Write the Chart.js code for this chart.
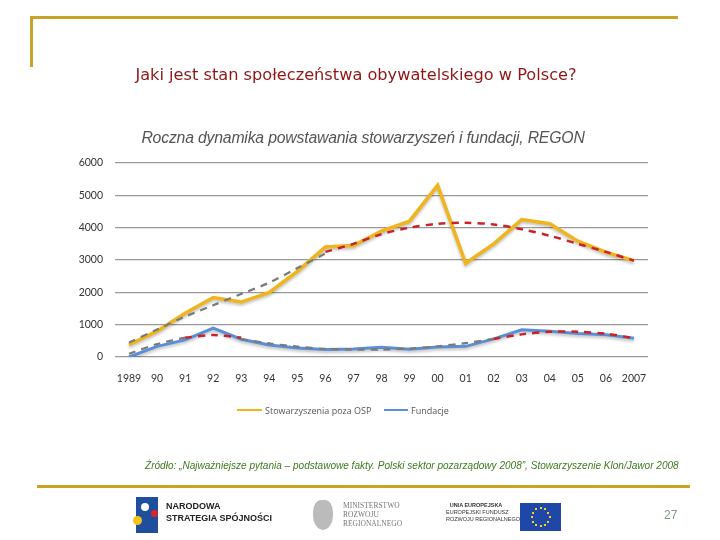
<!DOCTYPE html>
<html><head><meta charset="utf-8">
<script src="https://cdn.jsdelivr.net/npm/chart.js@4.4.1/dist/chart.umd.min.js"></script>
<style>
html,body{margin:0;padding:0;background:#fff;width:720px;height:540px;overflow:hidden;position:relative;font-family:"Liberation Sans",Arial,sans-serif}
.abs{position:absolute;white-space:nowrap}
#c{position:absolute;left:0;top:0}
</style></head><body>
<canvas id="c" width="720" height="540"></canvas>
<div class="abs" style="left:30px;top:16px;width:648px;height:3px;background:#C9A22A"></div>
<div class="abs" style="left:30px;top:16px;width:3px;height:51px;background:#C9A22A"></div>
<div class="abs" style="left:0;width:712px;top:65px;text-align:center;font-family:'DejaVu Sans';font-size:16.2px;color:#8E1616;letter-spacing:0px">Jaki jest stan społeczeństwa obywatelskiego w Polsce?</div>
<div class="abs" style="left:0;width:726px;top:129px;text-align:center;font-style:italic;font-size:15.8px;color:#555;letter-spacing:-0.2px">Roczna dynamika powstawania stowarzyszeń i fundacji, REGON</div>
<div class="abs" style="left:237px;top:409px;width:25px;height:2px;background:#F0B41C"></div>
<div class="abs" style="left:265px;top:404px;font-family:'Open Sans';font-size:9px;color:#555">Stowarzyszenia poza OSP</div>
<div class="abs" style="left:384px;top:409px;width:24px;height:2px;background:#5B8ED4"></div>
<div class="abs" style="left:411px;top:404px;font-family:'Open Sans';font-size:9px;color:#555">Fundacje</div>
<div class="abs" style="left:145px;top:460px;font-style:italic;font-size:10.05px;color:#3E7A1E;letter-spacing:0px">Źródło: „Najważniejsze pytania – podstawowe fakty. Polski sektor pozarządowy 2008”, Stowarzyszenie Klon/Jawor 2008</div>
<div class="abs" style="left:37px;top:485px;width:653px;height:3px;background:#C9A22A"></div>
<div class="abs" style="left:136px;top:497px;width:22px;height:36px;background:#1F4E9C"></div>
<div class="abs" style="left:141px;top:503px;width:8px;height:8px;background:#fff;border-radius:50%"></div>
<div class="abs" style="left:133px;top:516px;width:9px;height:9px;background:#F4C318;border-radius:50%"></div>
<div class="abs" style="left:151px;top:510px;width:7px;height:7px;background:#D9262C;border-radius:50%"></div>
<div class="abs" style="left:166px;top:500px;font-weight:bold;font-size:9px;line-height:12px;color:#222;letter-spacing:0px">NARODOWA<br>STRATEGIA SPÓJNOŚCI</div>
<div class="abs" style="left:313px;top:500px;width:20px;height:30px;background:#bbb;border-radius:40% 40% 50% 50%"></div>
<div class="abs" style="left:343px;top:501px;font-family:'Liberation Serif';font-size:7.5px;line-height:9px;color:#777">MINISTERSTWO<br>ROZWOJU<br>REGIONALNEGO</div>
<div class="abs" style="left:446px;top:502px;width:60px;text-align:center;font-size:5.5px;line-height:7px;color:#333"><b>UNIA EUROPEJSKA</b><br>EUROPEJSKI FUNDUSZ<br>ROZWOJU REGIONALNEGO</div>
<div class="abs" id="flag" style="left:520px;top:503px;width:41px;height:28px;background:#1F47A8"></div>
<div class="abs" style="left:664px;top:508px;font-size:12px;color:#7C9C7C">27</div>
<script>
const categories = ['1989','90','91','92','93','94','95','96','97','98','99','00','01','02','03','04','05','06','2007'];
const stowarzyszenia = [380,800,1350,1840,1700,2000,2650,3400,3450,3890,4200,5310,2900,3500,4250,4120,3580,3240,2980];
const fundacje = [0,330,530,890,550,370,280,230,250,300,240,310,330,560,840,800,730,690,580];
const stowTrendGray = [450,850,1250,1600,1950,2300,2750,3200,null,null,null,null,null,null,null,null,null,null,null];
const stowTrendRed = [null,null,null,null,null,null,null,3250,3500,3800,4000,4120,4150,4100,3950,3750,3500,3250,2980];
const fundTrendGray = [100,400,600,null,550,420,320,250,230,230,260,330,430,560,null,null,null,null,null];
const fundTrendRed = [null,null,600,680,600,null,null,null,null,null,null,null,null,560,700,780,780,720,580];
const yTicks = [0,1000,2000,3000,4000,5000,6000];

// EU flag stars
const flag = document.getElementById('flag');
for (let i=0;i<12;i++){const a=i/12*2*Math.PI;const s=document.createElement('div');s.style.cssText='position:absolute;width:2px;height:2px;background:#F7D117;left:'+(19.5+9*Math.cos(a))+'px;top:'+(13+9*Math.sin(a))+'px';flag.appendChild(s);}

const shadow = {
  id:'shadow',
  beforeDatasetDraw(chart,args){const ctx=chart.ctx;ctx.save();if(args.index<2){ctx.shadowColor='rgba(0,0,0,0.25)';ctx.shadowBlur=3;ctx.shadowOffsetY=2;}},
  afterDatasetDraw(chart){chart.ctx.restore();}
};

new Chart(document.getElementById('c'), {
  type:'line',
  data:{labels:categories,datasets:[
    {label:'Stowarzyszenia poza OSP',data:stowarzyszenia,borderColor:'#F0B41C',borderWidth:3.5,pointRadius:0,tension:0,order:2},
    {label:'Fundacje',data:fundacje,borderColor:'#5B8ED4',borderWidth:3,pointRadius:0,tension:0,order:2},
    {label:'t1',data:stowTrendGray,borderColor:'#7A7A7A',borderWidth:2.2,borderDash:[7,6],pointRadius:0,tension:0.3,order:1,spanGaps:false},
    {label:'t2',data:stowTrendRed,borderColor:'#C8232B',borderWidth:2.5,borderDash:[7,6],pointRadius:0,tension:0.3,order:1},
    {label:'t3',data:fundTrendGray,borderColor:'#7A7A7A',borderWidth:2.2,borderDash:[7,6],pointRadius:0,tension:0.3,order:1},
    {label:'t4',data:fundTrendRed,borderColor:'#C8232B',borderWidth:2.5,borderDash:[7,6],pointRadius:0,tension:0.3,order:1}
  ]},
  options:{
    responsive:false,animation:false,
    layout:{padding:{left:0,right:72,top:163,bottom:0}},
    plugins:{legend:{display:false},title:{display:false},tooltip:{enabled:false}},
    scales:{
      x:{offset:true,grid:{display:false,drawTicks:false},border:{display:false},
         ticks:{padding:15,color:'#333',font:{family:'Lato',size:10.5},maxRotation:0,autoSkip:false},
         afterFit(s){s.height=183;}},
      y:{min:0,max:6000,afterBuildTicks(s){s.ticks=yTicks.map(v=>({value:v}));},
         grid:{color:'#999',lineWidth:1.3,drawTicks:false},border:{display:false},
         ticks:{padding:12,color:'#333',font:{family:'Lato',size:10.5},callback:v=>String(v)},
         afterFit(s){s.width=115;}}
    }
  },
  plugins:[shadow]
});
</script>
</body></html>
